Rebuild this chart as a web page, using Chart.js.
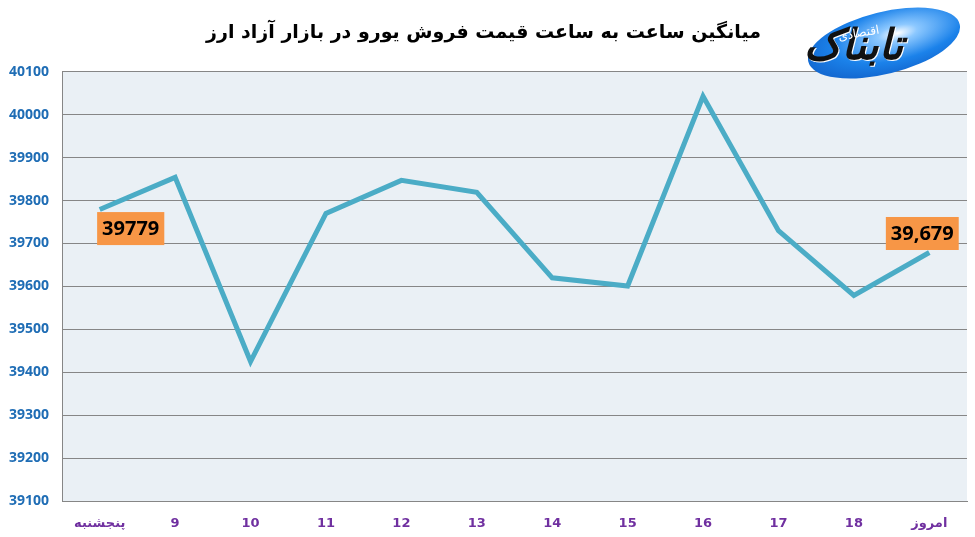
<!DOCTYPE html>
<html lang="fa">
<head>
  <meta charset="UTF-8">
  <title>میانگین ساعت به ساعت قیمت فروش یورو</title>
  <script src="https://cdn.jsdelivr.net/npm/chart.js"></script>
  <style>
    html, body {
      margin: 0;
      padding: 0;
      background: #fff;
      overflow: hidden;
    }
    #wrap {
      position: relative;
      width: 975px;
      height: 537px;
    }
    /* لوگو */
    #logo {
      position: absolute;
      left: 798px;
      top: 4px;
      width: 170px;
      height: 80px;
      z-index: 5;
    }
    #logo .oval {
      position: absolute;
      left: 8px;
      top: 8px;
      width: 156px;
      height: 62px;
      border-radius: 50%;
      transform: rotate(-14deg);
      background: radial-gradient(ellipse at 60% 40%, #ffffff 0%, #8cc8ff 15%, #1b82ea 50%, #0b4fb8 100%);
    }
    #logo .big {
      position: absolute;
      left: 6px;
      top: 16px;
      font-family: "DejaVu Sans", sans-serif;
      font-weight: bold;
      font-style: italic;
      font-size: 42px;
      color: #111;
      text-shadow: 1px 1px 0 #fff;
      direction: rtl;
    }
    #logo .small {
      position: absolute;
      left: 40px;
      top: 22px;
      font-family: "DejaVu Sans", sans-serif;
      font-size: 12px;
      color: #fff;
      direction: rtl;
      transform: rotate(-10deg);
    }
  </style>
</head>
<body>
  <div id="wrap">
    <canvas id="chart" width="975" height="537"></canvas>
    <div id="logo">
      <div class="oval"></div>
      <div class="big">تابناک</div>
      <div class="small">اقتصادی</div>
    </div>
  </div>

  <script>
    const TITLE = "میانگین ساعت به ساعت قیمت فروش یورو در بازار آزاد ارز";
    const hours = ["پنجشنبه", "9", "10", "11", "12", "13", "14", "15", "16", "17", "18", "امروز"];
    const prices = [39779, 39854, 39425, 39770, 39847, 39819, 39620, 39601, 40043, 39730, 39579, 39679];
    const pointLabels = ["39779", null, null, null, null, null, null, null, null, null, null, "39,679"];
    const yMin = 39100;
    const yMax = 40100;
    const yStep = 100;

    // پس‌زمینه ناحیه نمودار
    const plotBg = {
      id: "plotBg",
      beforeDraw(chart) {
        const a = chart.chartArea;
        const ctx = chart.ctx;
        ctx.save();
        ctx.fillStyle = "#EAF0F5";
        ctx.fillRect(a.left, a.top, a.right - a.left, a.bottom - a.top);
        ctx.restore();
      }
    };

    // برچسب‌های نارنجی
    const valueBoxes = {
      id: "valueBoxes",
      afterDatasetsDraw(chart) {
        const ctx = chart.ctx;
        const pts = chart.getDatasetMeta(0).data;
        ctx.save();
        ctx.font = "bold 20px 'Open Sans', sans-serif";
        ctx.textBaseline = "middle";
        ctx.textAlign = "center";
        pointLabels.forEach((txt, i) => {
          if (!txt) return;
          const p = pts[i];
          const w = ctx.measureText(txt).width + 10;
          const h = 33;
          let cx, cy;
          if (i === 0) {
            cx = p.x + 31; cy = p.y + 19;
          } else {
            cx = p.x - 7; cy = p.y - 19;
          }
          ctx.fillStyle = "#F79646";
          ctx.fillRect(cx - w / 2, cy - h / 2, w, h);
          ctx.fillStyle = "#000";
          ctx.fillText(txt, cx, cy + 1);
        });
        ctx.restore();
      }
    };

    new Chart(document.getElementById("chart").getContext("2d"), {
      type: "line",
      data: {
        labels: hours,
        datasets: [{
          data: prices,
          borderColor: "#4BACC6",
          borderWidth: 5,
          pointRadius: 0,
          tension: 0,
          fill: false
        }]
      },
      options: {
        responsive: false,
        animation: false,
        layout: { padding: { left: 0, right: 8, top: 0, bottom: 0 } },
        plugins: {
          legend: { display: false },
          tooltip: { enabled: false },
          title: {
            display: true,
            text: TITLE,
            color: "#000",
            font: { family: "DejaVu Sans", size: 19, weight: "bold" },
            padding: { top: 22, bottom: 27 }
          }
        },
        scales: {
          x: {
            offset: true,
            grid: { display: false },
            border: { display: true, color: "#868686", width: 1 },
            ticks: {
              color: "#7030A0",
              font: { family: "DejaVu Sans", size: 13, weight: "bold" },
              padding: 7,
              maxRotation: 0,
              autoSkip: false
            },
            afterFit(scale) { scale.height = 36; }
          },
          y: {
            min: yMin,
            max: yMax,
            grid: { color: "#868686", lineWidth: 1, drawTicks: false },
            border: { display: true, color: "#868686", width: 1 },
            ticks: {
              stepSize: yStep,
              color: "#1F6DB5",
              font: { family: "Open Sans", size: 14, weight: "bold" },
              padding: 13,
              callback: v => String(v)
            },
            afterFit(scale) { scale.width = 62; }
          }
        }
      },
      plugins: [plotBg, valueBoxes]
    });
  </script>
</body>
</html>
